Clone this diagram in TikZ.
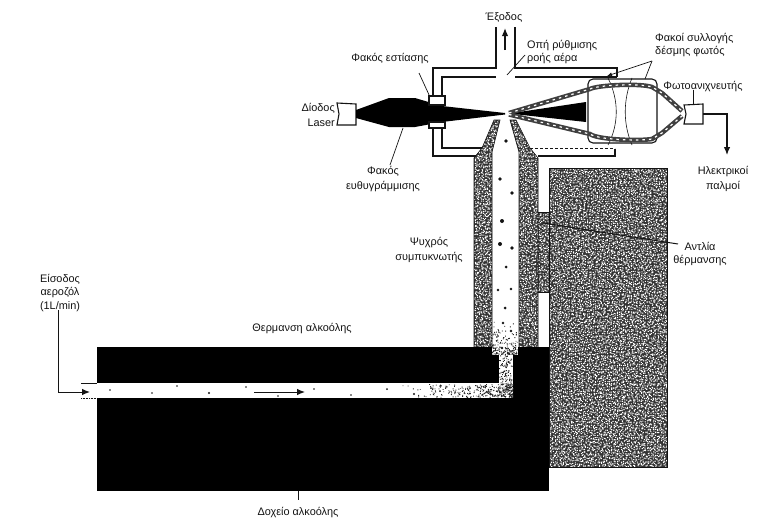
\documentclass[tikz,border=0pt]{standalone}
\usepackage{fontspec}
\setmainfont{Liberation Sans}
\usetikzlibrary{arrows.meta}
\definecolor{ink}{gray}{0.08}
\definecolor{stip}{gray}{0.2}
\newcommand{\speckle}[5]{% x0 y0 x1 y1 step : white jittered grains, one path per column
  \foreach \xx in {#1,\the\numexpr#1+#5\relax,...,#3}{\fill[white] \foreach \yy in {#2,\the\numexpr#2+#5\relax,...,#4}{
    \pgfextra{\pgfmathsetmacro{\ja}{\xx+rnd*1.8}\pgfmathsetmacro{\jb}{\yy+rnd*1.8}}
    (\ja,\jb) rectangle ++(1.15,1.05)};}}
\tikzset{
  lbl/.style={font=\fontsize{10.9}{12.5}\selectfont,text=ink,inner sep=0pt,align=center},
  wall/.style={draw=ink,line width=1.1pt},
  leader/.style={draw=ink,line width=.7pt},
  thinline/.style={draw=ink,line width=.6pt},
  flow/.style={draw=ink,line width=1pt,-{Latex[length=8pt,width=6.5pt]}},
  rope/.style={draw=black!75,line width=4.5pt,line join=round},
  ropeg/.style={draw=white,line width=1.2pt,dash pattern=on 2.5pt off 4pt},
  partic/.style={fill=ink,draw=none}
}
\begin{document}
\begin{tikzpicture}[x=1pt,y=-1pt]
\path[use as bounding box,fill=white] (0,0) rectangle (760,517);
\clip (0,0) rectangle (760,517);
\pgfmathsetseed{4242}

% stippled block with pump
\fill[stip] (549,168) rectangle (667,467);
\fill[stip] (538,212) rectangle (549,292);
\begin{scope}
\clip (549,168) rectangle (667,467) (538,212) rectangle (549,292);
\speckle{538}{168}{667}{467}{2}
\end{scope}
\draw[thinline] (549,168) -- (667,168) -- (667,467) -- (549,467) -- cycle;
\draw[thinline] (538,212) -- (549,212) (538,292) -- (549,292);

% condenser walls
\fill[stip] (474,347) -- (474,158) -- (482,148) -- (494,120) -- (500,120) -- (492,152) -- (492,347) -- cycle;
\fill[stip] (538,347) -- (538,158) -- (530,148) -- (516,120) -- (510,120) -- (519,152) -- (519,347) -- cycle;
\begin{scope}
\clip (474,347) -- (474,158) -- (482,148) -- (494,120) -- (500,120) -- (492,152) -- (492,347) -- cycle
      (538,347) -- (538,158) -- (530,148) -- (516,120) -- (510,120) -- (519,152) -- (519,347) -- cycle;
\speckle{474}{120}{538}{347}{2}
\end{scope}
\draw[thinline] (474,347) -- (474,158) -- (482,148) -- (494,120) -- (500,120) -- (492,152) -- (492,347);
\draw[thinline] (538,347) -- (538,158) -- (530,148) -- (516,120) -- (510,120) -- (519,152) -- (519,347);

% black heater and reservoir
\fill[black] (97,347) rectangle (549,491);
\fill[white] (81,383) rectangle (513,398);
\fill[white] (492,347) rectangle (518,355);
\fill[white] (499,355) rectangle (513,398);
\draw[thinline] (81,383) -- (97,383);
\draw[densely dotted,draw=ink,line width=.6pt] (81,398) -- (97,398);
% fine specks thickening towards the bend of the flow
\fill[black!85]
  \foreach \i in {1,...,340}{
    \pgfextra{\pgfmathsetmacro{\ja}{513-rnd*rnd*113}\pgfmathsetmacro{\jb}{384+rnd*13}}
    (\ja,\jb) rectangle ++(.9,.9)}
  \foreach \i in {1,...,170}{
    \pgfextra{\pgfmathsetmacro{\ja}{492+rnd*25}\pgfmathsetmacro{\jb}{354-rnd*rnd*36}}
    (\ja,\jb) rectangle ++(.9,.9)}
  \foreach \i in {1,...,110}{
    \pgfextra{\pgfmathsetmacro{\ja}{499+rnd*13}\pgfmathsetmacro{\jb}{355+rnd*30}}
    (\ja,\jb) rectangle ++(.9,.9)};

% particles
\fill[partic] (506,141) circle (1.8) (500,179) circle (1.9) (512,193) circle (1.9) (502,221) circle (2) (500,244) circle (2) (512,248) circle (1.9) (506,267) circle (1.5) (498,290) circle (1.4) (511,289) circle (1.4) (505,308) circle (1.5) (503,323) circle (1.3) (511,331) circle (1.4) (502,348) circle (1.3);
\fill[partic] (110,390) circle (.9) (152,393) circle (.8) (177,386) circle (.8) (209,393) circle (1.2) (246,387) circle (.9) (278,396) circle (.9) (314,389) circle (.9) (351,395) circle (.9) (387,389) circle (1) (414,394) circle (1.1) (431,388) circle (1) (440,391) circle (1) (470,388) circle (1);

% flow arrows in channel
\coordinate (flowA) at (254,392); \coordinate (flowB) at (305,392);
\draw[flow] (flowA) -- (flowB);
\coordinate (inA) at (58,310); \coordinate (inB) at (58,392); \coordinate (inC) at (90,392);
\draw[flow] (inA) -- (inB) -- (inC);

% reservoir tick
\node[lbl] (res) at (298,513) {Δοχείο αλκοόλης};
\draw[leader] (298,491) -- (298,500);

% chamber
\draw[wall,line width=1.3pt] (433,96) -- (433,68) -- (496,68) -- (496,27);
\draw[wall,line width=1.3pt] (515,27) -- (515,68) -- (617,68) -- (617,77);
\draw[wall] (442,96) -- (442,77) -- (496,77) (515,77) -- (617,77);
\draw[wall] (433,128) -- (433,156) -- (476,156) (538,156) -- (615,156) -- (615,149);
\draw[wall] (442,128) -- (442,148) -- (482,148);
\draw[draw=ink,line width=.9pt,densely dashed] (530,148) -- (615,148);
\coordinate (exA) at (505,50); \coordinate (exB) at (505,28);
\draw[flow,line width=1.4pt] (exA) -- (exB);

% laser and beam
\draw[wall] (337,103) -- (356,104) -- (356,125) -- (337,125) -- (339,114) -- cycle;
\fill[black] (356,110) -- (389,98) -- (415,98) -- (442,106) -- (505,113) -- (505,114.5) -- (442,122) -- (415,127) -- (389,127) -- (356,118) -- cycle;
\fill[black] (509,113.5) -- (586,102) -- (586,122) -- cycle;

% lens housing
\draw[wall,rounded corners=5pt] (588,79) rectangle (657,143);
\draw[thinline] (608,78) .. controls (619,100) and (619,124) .. (608,145);
\draw[thinline] (632,78) .. controls (623,100) and (623,124) .. (632,145);
% collected light
\draw[rope] (509,113) -- (590,89) .. controls (598,85) and (640,83) .. (652,87) -- (662,93) -- (682,111);
\draw[rope] (509,114.5) -- (590,134) .. controls (598,140) and (640,141) .. (652,139) -- (662,133) -- (682,116);
\draw[ropeg] (509,113) -- (590,89) .. controls (598,85) and (640,83) .. (652,87) -- (662,93) -- (682,111);
\draw[ropeg] (509,114.5) -- (590,134) .. controls (598,140) and (640,141) .. (652,139) -- (662,133) -- (682,116);

% focusing lens mount
\draw[wall,fill=white] (429,96) rectangle (445,105);
\draw[wall,fill=white] (429,122) rectangle (445,128);

% photodetector
\draw[wall] (684,105) -- (703,104) -- (703,124) -- (684,124) -- (686,114) -- cycle;
\coordinate (elA) at (703,114); \coordinate (elB) at (727,114); \coordinate (elC) at (727,155);
\draw[flow,line width=1.2pt] (elA) -- (elB) -- (elC);

% leaders
\draw[leader] (525,55) -- (507,75);
\draw[leader] (419,73) -- (430,97);
\draw[leader,-{Latex[length=5pt,width=4pt]}] (652,61) -- (607,76);
\draw[leader] (652,61) -- (645,79);
\draw[leader] (693,90) -- (693,105);
\draw[leader] (403,128) -- (390,165);
\draw[draw=ink,line width=1pt] (543,223) -- (678,244);

% labels
\node[lbl] (exit) at (504,17) {Έξοδος};
\node[lbl,anchor=west,align=left] (hole) at (527,52) {Οπή ρύθμισης\\[1pt]ροής αέρα};
\node[lbl] (focus) at (390,59) {Φακός εστίασης};
\node[lbl,anchor=west,align=left] (collect) at (655,45) {Φακοί συλλογής\\[1pt]δέσμης φωτός};
\node[lbl] (pd) at (703,87) {Φωτοανιχνευτής};
\node[lbl,anchor=east,align=right] (diode) at (335,115) {Δίοδος\\[2pt]Laser};
\node[lbl] (coll) at (383,179) {Φακός\\[2pt]ευθυγράμμισης};
\node[lbl] (pulse) at (723,179) {Ηλεκτρικοί\\[2pt]παλμοί};
\node[lbl] (cold) at (429,250) {Ψυχρός\\[2pt]συμπυκνωτής};
\node[lbl] (pump) at (700,254) {Αντλία\\[1pt]θέρμανσης};
\node[lbl] (inlet) at (60,293) {Είσοδος\\[1pt]αεροζόλ\\[1pt](1L/min)};
\node[lbl] (heat) at (302,329) {Θερμανση αλκοόλης};
\end{tikzpicture}
\end{document}
